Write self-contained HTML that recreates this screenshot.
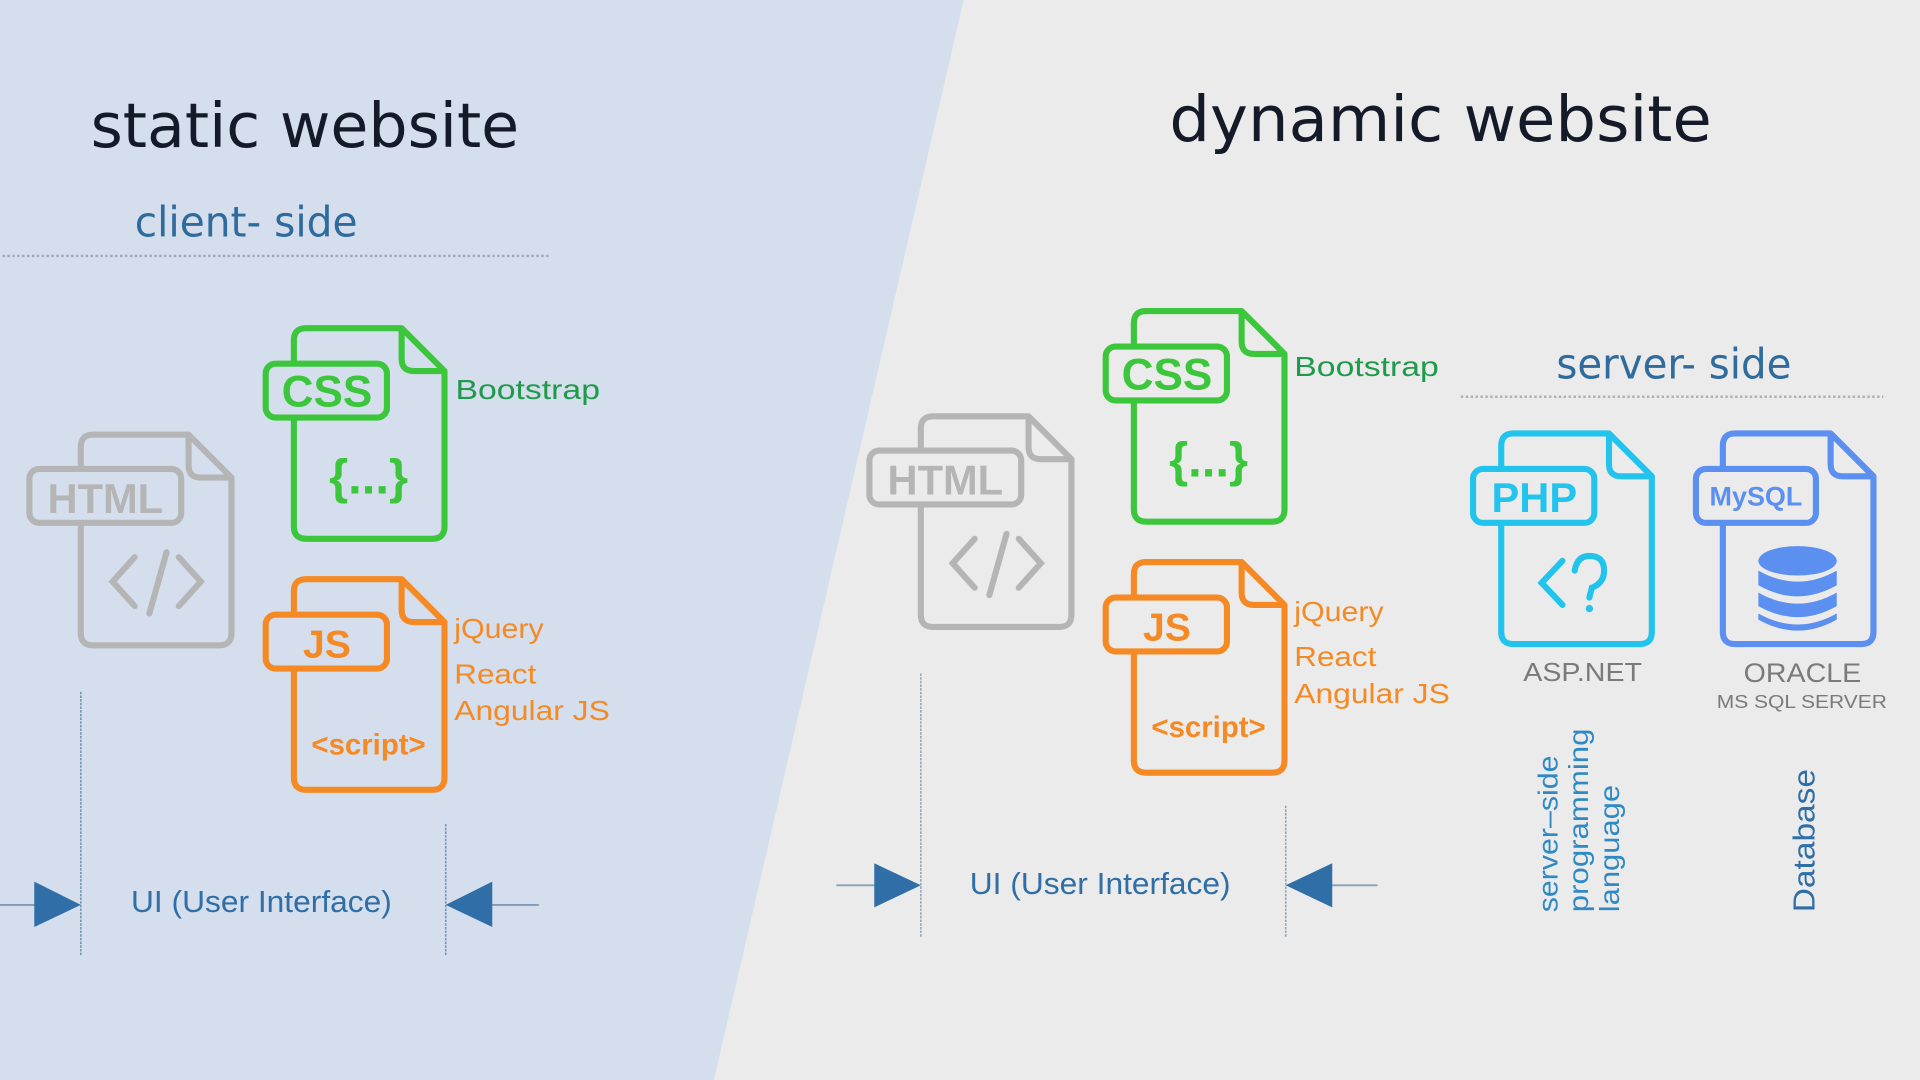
<!DOCTYPE html>
<html><head><meta charset="utf-8"><style>
html,body{margin:0;padding:0;width:1920px;height:1080px;overflow:hidden;background:#ebebeb}
svg{display:block}
.t{font-family:"DejaVu Sans",sans-serif;fill:#141a28}
.s{font-family:"DejaVu Sans",sans-serif;fill:#2f6b9c}
.l{font-family:"Liberation Sans",sans-serif}
</style></head><body>
<svg width="1920" height="1080" viewBox="0 0 1568 882" xmlns="http://www.w3.org/2000/svg">
<defs>
<symbol id="f" overflow="visible">
<path d="M10,0 H88 L123,35 V162 Q123,172 113,172 H10 Q0,172 0,162 V10 Q0,0 10,0 Z" fill="none" stroke="currentColor" stroke-width="5" stroke-linejoin="round"/>
<path d="M88,0 V25 Q88,35 98,35 H123" fill="none" stroke="currentColor" stroke-width="5" stroke-linejoin="round"/>
</symbol>
</defs>
<rect width="1568" height="882" fill="#ebebeb"/>
<polygon points="0,0 787,0 583,882 0,882" fill="#d4deed"/>

<text class="t" x="74" y="120" font-size="50" textLength="350" lengthAdjust="spacingAndGlyphs">static website</text>
<text class="s" x="110" y="193" font-size="34" textLength="182" lengthAdjust="spacingAndGlyphs">client- side</text>
<line x1="2" y1="209" x2="448" y2="209" stroke="#9aaabb" stroke-width="2" stroke-dasharray="2,2"/>

<text class="t" x="955" y="115" font-size="52" textLength="443" lengthAdjust="spacingAndGlyphs">dynamic website</text>
<text class="s" x="1271" y="309" font-size="34" textLength="192" lengthAdjust="spacingAndGlyphs">server- side</text>
<line x1="1193" y1="324" x2="1538" y2="324" stroke="#b0b0b0" stroke-width="2" stroke-dasharray="2,2"/>

<!-- LEFT HTML -->
<g transform="translate(66,355)" color="#b5b5b5">
<use href="#f"/>
<rect x="-42" y="28" width="124" height="44" rx="8" fill="#d4deed" stroke="#b5b5b5" stroke-width="5"/>
<text class="l" x="20" y="64" font-size="34" font-weight="bold" fill="#b5b5b5" text-anchor="middle">HTML</text>
<path d="M44,100 L26,120 L44,140 M80,100 L98,120 L80,140 M70,96 L56,146" fill="none" stroke="#b5b5b5" stroke-width="5" stroke-linecap="round"/>
</g>
<!-- LEFT CSS -->
<g transform="translate(240,268)" color="#3cc63c">
<use href="#f"/>
<rect x="-23" y="29" width="99" height="44" rx="8" fill="#d4deed" stroke="#3cc63c" stroke-width="5"/>
<text class="l" x="27" y="64" font-size="36" font-weight="bold" fill="#3cc63c" text-anchor="middle">CSS</text>
<text class="l" x="61" y="135" font-size="40" font-weight="bold" fill="#3cc63c" text-anchor="middle">{...}</text>
</g>
<text class="l" x="372" y="326" font-size="23" fill="#1e9a4a" textLength="118" lengthAdjust="spacingAndGlyphs">Bootstrap</text>
<!-- LEFT JS -->
<g transform="translate(240,473)" color="#f58a25">
<use href="#f"/>
<rect x="-23" y="29" width="99" height="44" rx="8" fill="#d4deed" stroke="#f58a25" stroke-width="5"/>
<text class="l" x="27" y="64" font-size="32" font-weight="bold" fill="#f58a25" text-anchor="middle">JS</text>
<text class="l" x="61" y="143" font-size="24" font-weight="bold" fill="#f58a25" text-anchor="middle">&lt;script&gt;</text>
</g>
<text class="l" x="371" y="521" font-size="23" fill="#f58a25" textLength="73" lengthAdjust="spacingAndGlyphs">jQuery</text>
<text class="l" x="371" y="558" font-size="23" fill="#f58a25" textLength="67" lengthAdjust="spacingAndGlyphs">React</text>
<text class="l" x="371" y="588" font-size="23" fill="#f58a25" textLength="127" lengthAdjust="spacingAndGlyphs">Angular JS</text>

<!-- left UI -->
<line x1="66" y1="565" x2="66" y2="780" stroke="#6f8fb0" stroke-width="1.2" stroke-dasharray="2,1"/>
<line x1="364" y1="673" x2="364" y2="780" stroke="#6f8fb0" stroke-width="1.2" stroke-dasharray="2,1"/>
<line x1="0" y1="739" x2="30" y2="739" stroke="#7f9bb8" stroke-width="1.5"/>
<polygon points="28,720 28,757 66,739" fill="#2f6ea6"/>
<line x1="400" y1="739" x2="440" y2="739" stroke="#7f9bb8" stroke-width="1.5"/>
<polygon points="402,720 402,757 364,739" fill="#2f6ea6"/>
<text class="l" x="107" y="745" font-size="25" fill="#2f6ea6" textLength="213" lengthAdjust="spacingAndGlyphs">UI (User Interface)</text>

<!-- RIGHT HTML -->
<g transform="translate(752,340)" color="#b5b5b5">
<use href="#f"/>
<rect x="-42" y="28" width="124" height="44" rx="8" fill="#ebebeb" stroke="#b5b5b5" stroke-width="5"/>
<text class="l" x="20" y="64" font-size="34" font-weight="bold" fill="#b5b5b5" text-anchor="middle">HTML</text>
<path d="M44,100 L26,120 L44,140 M80,100 L98,120 L80,140 M70,96 L56,146" fill="none" stroke="#b5b5b5" stroke-width="5" stroke-linecap="round"/>
</g>
<!-- RIGHT CSS -->
<g transform="translate(926,254)" color="#3cc63c">
<use href="#f"/>
<rect x="-23" y="29" width="99" height="44" rx="8" fill="#ebebeb" stroke="#3cc63c" stroke-width="5"/>
<text class="l" x="27" y="64" font-size="36" font-weight="bold" fill="#3cc63c" text-anchor="middle">CSS</text>
<text class="l" x="61" y="135" font-size="40" font-weight="bold" fill="#3cc63c" text-anchor="middle">{...}</text>
</g>
<text class="l" x="1057" y="307" font-size="23" fill="#1e9a4a" textLength="118" lengthAdjust="spacingAndGlyphs">Bootstrap</text>
<!-- RIGHT JS -->
<g transform="translate(926,459)" color="#f58a25">
<use href="#f"/>
<rect x="-23" y="29" width="99" height="44" rx="8" fill="#ebebeb" stroke="#f58a25" stroke-width="5"/>
<text class="l" x="27" y="64" font-size="32" font-weight="bold" fill="#f58a25" text-anchor="middle">JS</text>
<text class="l" x="61" y="143" font-size="24" font-weight="bold" fill="#f58a25" text-anchor="middle">&lt;script&gt;</text>
</g>
<text class="l" x="1057" y="507" font-size="23" fill="#f58a25" textLength="73" lengthAdjust="spacingAndGlyphs">jQuery</text>
<text class="l" x="1057" y="544" font-size="23" fill="#f58a25" textLength="67" lengthAdjust="spacingAndGlyphs">React</text>
<text class="l" x="1057" y="574" font-size="23" fill="#f58a25" textLength="127" lengthAdjust="spacingAndGlyphs">Angular JS</text>

<!-- right UI -->
<line x1="752" y1="550" x2="752" y2="765" stroke="#8aa0b5" stroke-width="1.2" stroke-dasharray="2,1"/>
<line x1="1050" y1="658" x2="1050" y2="765" stroke="#8aa0b5" stroke-width="1.2" stroke-dasharray="2,1"/>
<line x1="683" y1="723" x2="716" y2="723" stroke="#8aa0b5" stroke-width="1.5"/>
<polygon points="714,705 714,741 752,723" fill="#2f6ea6"/>
<line x1="1086" y1="723" x2="1125" y2="723" stroke="#8aa0b5" stroke-width="1.5"/>
<polygon points="1088,705 1088,741 1050,723" fill="#2f6ea6"/>
<text class="l" x="792" y="730" font-size="25" fill="#2f6ea6" textLength="213" lengthAdjust="spacingAndGlyphs">UI (User Interface)</text>

<!-- PHP -->
<g transform="translate(1226,354)" color="#22c4ee">
<use href="#f"/>
<rect x="-23" y="29" width="99" height="44" rx="8" fill="#ebebeb" stroke="#22c4ee" stroke-width="5"/>
<text class="l" x="27" y="64" font-size="34" font-weight="bold" fill="#22c4ee" text-anchor="middle">PHP</text>
<path d="M50,104 L33,122 L50,140" fill="none" stroke="#22c4ee" stroke-width="5" stroke-linecap="round"/>
<path d="M60,112 Q62,100 72,100 Q84,100 84,112 Q84,122 74,126 L72,134" fill="none" stroke="#22c4ee" stroke-width="5" stroke-linecap="round"/>
<circle cx="72" cy="143" r="3" fill="#22c4ee"/>
</g>
<text class="l" x="1244" y="556" font-size="21" fill="#7a7a7a" textLength="97" lengthAdjust="spacingAndGlyphs">ASP.NET</text>
<!-- MySQL -->
<g transform="translate(1407,354)" color="#5b8ff0">
<use href="#f"/>
<rect x="-22" y="29" width="98" height="44" rx="8" fill="#ebebeb" stroke="#5b8ff0" stroke-width="5"/>
<text class="l" x="27" y="59" font-size="22" font-weight="bold" fill="#5b8ff0" text-anchor="middle">MySQL</text>
<ellipse cx="61" cy="104" rx="32" ry="12" fill="#5b8ff0"/>
<path d="M29,112 Q61,130 93,112 V124 Q61,142 29,124 Z" fill="#5b8ff0"/>
<path d="M29,130 Q61,148 93,130 V141 Q61,159 29,141 Z" fill="#5b8ff0"/>
<path d="M29,147 Q61,165 93,147 V152 Q61,170 29,152 Z" fill="#5b8ff0"/>
</g>
<text class="l" x="1424" y="557" font-size="22" fill="#7a7a7a" textLength="96" lengthAdjust="spacingAndGlyphs">ORACLE</text>
<text class="l" x="1402" y="578" font-size="15" fill="#7a7a7a" textLength="139" lengthAdjust="spacingAndGlyphs">MS SQL SERVER</text>

<g font-family="Liberation Sans, sans-serif" font-size="23" fill="#2f8ac4">
<text transform="translate(1272,745) rotate(-90)" textLength="128" lengthAdjust="spacingAndGlyphs">server–side</text>
<text transform="translate(1297,745) rotate(-90)" textLength="150" lengthAdjust="spacingAndGlyphs">programming</text>
<text transform="translate(1322,745) rotate(-90)" textLength="104" lengthAdjust="spacingAndGlyphs">language</text>
<text transform="translate(1482,745) rotate(-90)" fill="#2f6ea6" font-size="25" textLength="117" lengthAdjust="spacingAndGlyphs">Database</text>
</g>
</svg>
</body></html>
